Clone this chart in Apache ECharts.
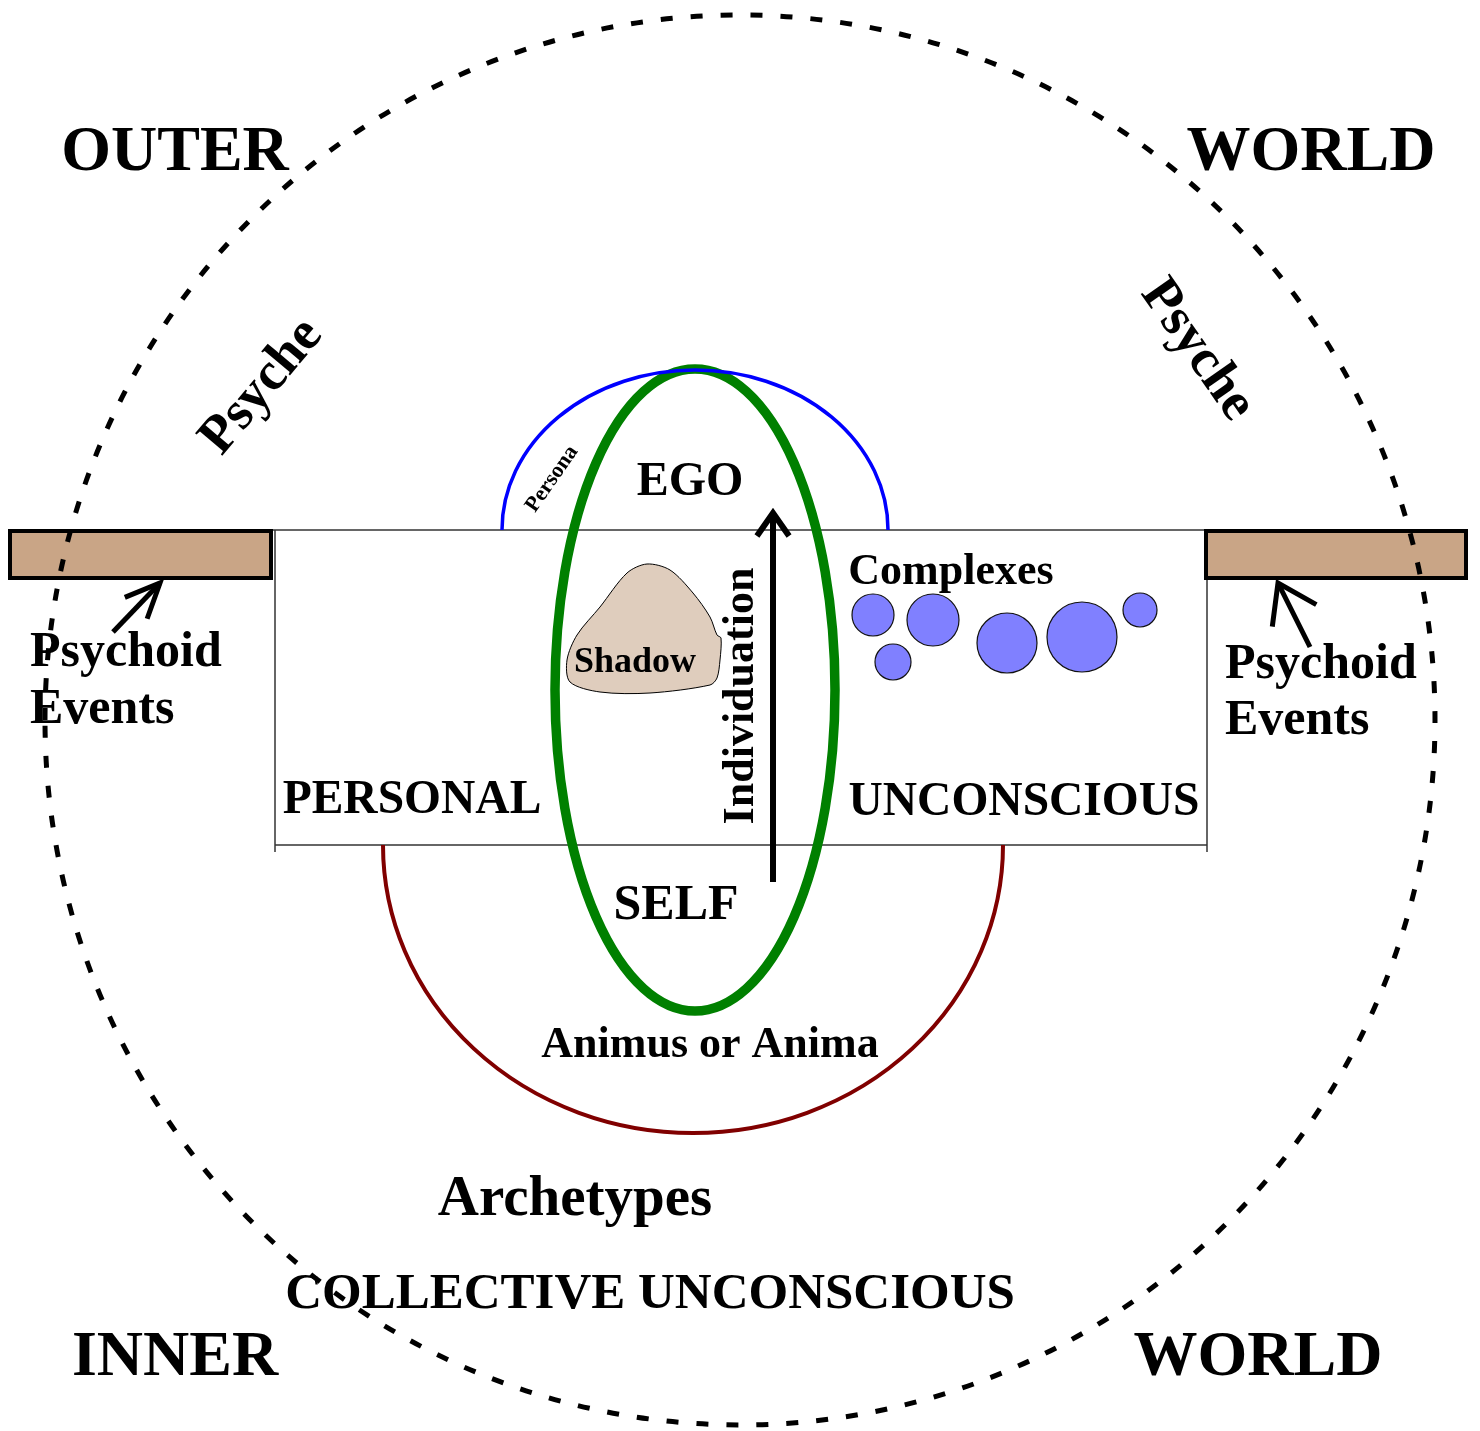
<!DOCTYPE html>
<html><head><meta charset="utf-8">
<script src="https://cdn.jsdelivr.net/npm/echarts@6/dist/echarts.min.js"></script>
<style>html,body{margin:0;padding:0;background:#fff}#chart{width:1480px;height:1431px}</style>
</head><body><div id="chart"></div>
<script>
// ---------- DATA (diagram units; y grows downward) ----------
const psycheBoundary = [[740, 720, 695, 705]];          // cx, cy, rx, ry
const egoSelfAxis = [[695, 690, 140, 321]];             // cx, cy, rx, ry
const personaArc = [[695, 530, 193, 160]];              // upper half-ellipse
const archetypeArc = [[693, 845, 310, 288]];            // lower half-ellipse
const unconsciousBoxLines = [[272, 530, 1206, 530], [275, 530, 275, 852], [1207, 578, 1207, 852], [275, 845, 1207, 845]];
const psychoidBars = [[10, 531, 271, 578], [1206, 531, 1466, 578]];
const shadowOutline = [[647, 564], [670, 570], [693, 593], [710, 617], [717, 635], [721, 638], [720, 660], [717, 678], [710, 685], [650, 693], [600, 692], [570, 682], [567, 660], [577, 635], [600, 607], [627, 573]];
const complexes = [[873, 615, 21], [933, 620, 26], [893, 662, 18], [1007, 643, 30], [1082, 637, 35], [1140, 610, 17]]; // cx, cy, r
const arrows = [[773, 882, 773, 513], [113, 632, 160, 583], [1310, 647, 1278, 583]];    // tail -> tip
const labelTexts = ['OUTER', 'WORLD', 'INNER', 'WORLD', 'Psyche', 'Psyche', 'Persona', 'EGO', 'Complexes', 'Shadow',
  'Individuation', 'PERSONAL', 'UNCONSCIOUS', 'SELF', 'Animus or Anima', 'Archetypes', 'COLLECTIVE UNCONSCIOUS',
  'Psychoid', 'Events', 'Psychoid', 'Events'];
const labelX = [175, 1311, 175, 1258, 262, 1197, 552, 690, 951, 635, 742, 412, 1024, 676, 710, 575, 650, 30, 30, 1225, 1225];
const labelY = [153, 153, 1358, 1358, 387, 350, 479, 483, 573, 663, 696, 801, 803, 906, 1046, 1200, 1295, 653, 710, 665, 721];

// ---------- STYLE ----------
const labelSizes = [64, 64, 64, 64, 54, 54, 22, 48, 44, 36, 44, 47.5, 47.5, 50, 44, 57, 51, 50, 50, 50, 50];
const labelRot = [0, 0, 0, 0, 50, -55, 55, 0, 0, 0, 90, 0, 0, 0, 0, 0, 0, 0, 0, 0, 0];
const labelAlign = ['center', 'center', 'center', 'center', 'center', 'center', 'center', 'center', 'center', 'center',
  'center', 'center', 'center', 'center', 'center', 'center', 'center', 'left', 'left', 'left', 'left'];
const arrowHead = [[28, 35], [38, 24], [44, 34]];   // length, half-angle (deg)
const FONT = '"Liberation Serif", "Times New Roman", serif';

function ellipsePath(c, s, part) {
  const x1 = c[0] - s[0], x2 = c[0] + s[0], y = c[1];
  if (part === 'full') return `M${x1} ${y} A${s[0]} ${s[1]} 0 1 1 ${x2} ${y} A${s[0]} ${s[1]} 0 1 1 ${x1} ${y} Z`;
  if (part === 'top') return `M${x1} ${y} A${s[0]} ${s[1]} 0 0 1 ${x2} ${y}`;
  return `M${x1} ${y} A${s[0]} ${s[1]} 0 0 0 ${x2} ${y}`;
}
function ellipseRenderer(part, style) {
  return function (params, api) {
    const c = api.coord([api.value(0), api.value(1)]);
    const s = api.size([api.value(2), api.value(3)]).map(Math.abs);
    return { type: 'path', shape: { pathData: ellipsePath(c, s, part) }, style: Object.assign({ fill: null }, style) };
  };
}

const chart = echarts.init(document.getElementById('chart'), null, { renderer: 'canvas' });
chart.setOption({
  animation: false,
  backgroundColor: '#ffffff',
  grid: { left: 0, right: 0, top: 0, bottom: 0 },
  xAxis: { type: 'value', min: 0, max: 1480, show: false },
  yAxis: { type: 'value', min: 0, max: 1431, inverse: true, show: false },
  series: [
    { type: 'custom', data: unconsciousBoxLines, renderItem: function (p, api) {
        const a = api.coord([api.value(0), api.value(1)]), b = api.coord([api.value(2), api.value(3)]);
        return { type: 'line', shape: { x1: a[0], y1: a[1], x2: b[0], y2: b[1] }, style: { stroke: '#333', lineWidth: 1.5 } };
      } },
    { type: 'custom', data: psychoidBars, renderItem: function (p, api) {
        const a = api.coord([api.value(0), api.value(1)]), b = api.coord([api.value(2), api.value(3)]);
        return { type: 'rect', shape: { x: a[0], y: a[1], width: b[0] - a[0], height: b[1] - a[1] },
          style: { fill: '#c9a586', stroke: '#000', lineWidth: 4 } };
      } },
    { type: 'custom', data: archetypeArc, renderItem: ellipseRenderer('bottom', { stroke: '#800000', lineWidth: 4 }) },
    { type: 'custom', data: egoSelfAxis, renderItem: ellipseRenderer('full', { stroke: '#008000', lineWidth: 9.5 }) },
    { type: 'custom', data: personaArc, renderItem: ellipseRenderer('top', { stroke: '#0000ff', lineWidth: 3.5 }) },
    { type: 'custom', data: [0], renderItem: function (p, api) {
        return { type: 'polygon', shape: { points: shadowOutline.map(pt => api.coord(pt)), smooth: 0.3 },
          style: { fill: '#dfcdbd', stroke: '#000', lineWidth: 1 } };
      } },
    { type: 'custom', data: complexes, renderItem: function (p, api) {
        const c = api.coord([api.value(0), api.value(1)]);
        const r = Math.abs(api.size([api.value(2), 0])[0]);
        return { type: 'circle', shape: { cx: c[0], cy: c[1], r: r }, style: { fill: '#8080ff', stroke: '#111', lineWidth: 1.2 } };
      } },
    { type: 'custom', data: arrows, renderItem: function (p, api) {
        const a = api.coord([api.value(0), api.value(1)]), b = api.coord([api.value(2), api.value(3)]);
        const ang = Math.atan2(a[1] - b[1], a[0] - b[0]);
        const h = arrowHead[p.dataIndex], L = h[0], t = h[1] * Math.PI / 180;
        const w1 = [b[0] + L * Math.cos(ang + t), b[1] + L * Math.sin(ang + t)];
        const w2 = [b[0] + L * Math.cos(ang - t), b[1] + L * Math.sin(ang - t)];
        const lw = p.dataIndex === 0 ? 6 : 5;
        return { type: 'group', children: [
          { type: 'line', shape: { x1: a[0], y1: a[1], x2: b[0], y2: b[1] }, style: { stroke: '#000', lineWidth: lw } },
          { type: 'polyline', shape: { points: [w1, b, w2] }, style: { stroke: '#000', lineWidth: lw, fill: null } }
        ] };
      } },
    { type: 'custom', data: psycheBoundary, renderItem: ellipseRenderer('full', { stroke: '#000', lineWidth: 5, lineDash: [12, 18] }) },
    { type: 'custom', data: labelTexts.map((t, i) => [labelX[i], labelY[i]]), renderItem: function (p, api) {
        const i = p.dataIndex;
        const c = api.coord([api.value(0), api.value(1)]);
        return { type: 'text', x: c[0], y: c[1], rotation: labelRot[i] * Math.PI / 180,
          style: { text: labelTexts[i], x: 0, y: 0, fill: '#000', align: labelAlign[i], verticalAlign: 'middle',
            font: 'bold ' + labelSizes[i] + 'px ' + FONT } };
      } }
  ]
});
</script></body></html>
